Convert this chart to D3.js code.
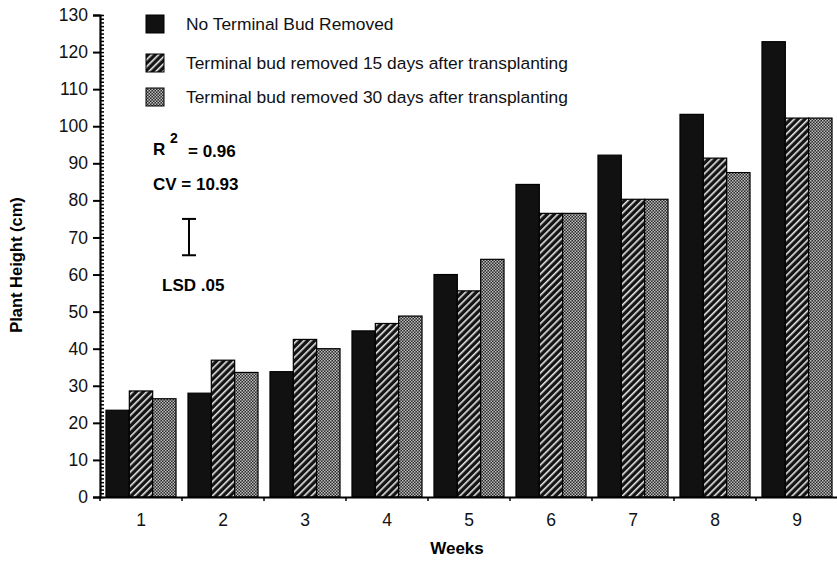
<!DOCTYPE html>
<html>
<head>
<meta charset="utf-8">
<script src="https://cdn.jsdelivr.net/npm/d3@7"></script>
<style>
body { margin: 0; background: #fff; }
svg { font-family: "Liberation Sans", Arial, sans-serif; }
</style>
</head>
<body>
<svg id="myGraph" width="837" height="561"></svg>
<script>
// データ
var weeks = ["1", "2", "3", "4", "5", "6", "7", "8", "9"];
var noBudRemoved = [23.4, 28.0, 33.8, 44.8, 60.0, 84.3, 92.2, 103.2, 122.8];
var removed15 = [28.6, 36.9, 42.5, 46.8, 55.6, 76.5, 80.3, 91.4, 102.2];
var removed30 = [26.5, 33.6, 40.0, 48.8, 64.1, 76.5, 80.3, 87.5, 102.2];
var seriesNames = [
    "No Terminal Bud Removed",
    "Terminal bud removed 15 days after transplanting",
    "Terminal bud removed 30 days after transplanting"
];
var yTicks = [0, 10, 20, 30, 40, 50, 60, 70, 80, 90, 100, 110, 120, 130];
var lsdRange = [65.2, 75.0];
var r2Text = "= 0.96";
var cvText = "CV = 10.93";
var lsdText = "LSD .05";

var svg = d3.select("#myGraph");

// 描画範囲 (window.top と衝突しない名前にする)
var plotLeft = 100, plotRight = 838, plotTop = 15, plotBottom = 497;

// スケール
var yScale = d3.scaleLinear().domain([0, 130]).range([plotBottom, plotTop]);
var x0 = d3.scaleBand().domain(weeks).range([plotLeft, plotRight])
    .paddingInner(0.146).paddingOuter(0.073);
var x1 = d3.scaleBand().domain([0, 1, 2]).range([0, x0.bandwidth()]);

// パターン
var defs = svg.append("defs");
var hatch = defs.append("pattern")
    .attr("id", "hatch")
    .attr("patternUnits", "userSpaceOnUse")
    .attr("width", 5).attr("height", 5)
    .attr("patternTransform", "rotate(45)");
hatch.append("rect").attr("width", 5).attr("height", 5).attr("fill", "#141414");
hatch.append("rect").attr("x", 0).attr("width", 1.6).attr("height", 5).attr("fill", "#e8e8e8");

var dots = defs.append("pattern")
    .attr("id", "dots")
    .attr("patternUnits", "userSpaceOnUse")
    .attr("width", 3).attr("height", 3);
dots.append("rect").attr("width", 3).attr("height", 3).attr("fill", "#2a2a2a");
dots.append("rect").attr("x", 0).attr("y", 0).attr("width", 1.5).attr("height", 1.5).attr("fill", "#bdbdbd");
dots.append("rect").attr("x", 1.5).attr("y", 1.5).attr("width", 1.5).attr("height", 1.5).attr("fill", "#bdbdbd");

var fills = ["#111", "url(#hatch)", "url(#dots)"];
var seriesData = [noBudRemoved, removed15, removed30];

// 棒グラフ
seriesData.forEach(function(values, s){
    svg.append("g")
    .selectAll("rect")
    .data(values)
    .enter()
    .append("rect")
    .attr("x", function(d, i){ return x0(weeks[i]) + x1(s); })
    .attr("y", function(d){ return yScale(d); })
    .attr("width", x1.bandwidth())
    .attr("height", function(d){ return plotBottom - yScale(d); })
    .attr("fill", fills[s])
    .attr("stroke", "#000")
    .attr("stroke-width", 1.2);
});

// 縦軸 (主目盛)
var yAxis = svg.append("g")
    .attr("transform", "translate(" + plotLeft + ",0)")
    .call(d3.axisLeft(yScale).tickValues(yTicks).tickSize(7).tickPadding(5));
yAxis.select(".domain").attr("stroke-width", 2.2);
yAxis.selectAll(".tick line").attr("stroke-width", 2);
yAxis.selectAll("text").style("font-size", "17.5px").attr("fill", "#111");

// 縦軸 (補助目盛)
var minor = svg.append("g")
    .attr("transform", "translate(" + plotLeft + ",0)")
    .call(d3.axisRight(yScale).tickValues(d3.range(0, 131, 1)).tickSize(4).tickFormat(""));
minor.select(".domain").remove();
minor.selectAll(".tick line").attr("stroke-width", 1.5);

// 横軸
var xAxis = svg.append("g")
    .attr("transform", "translate(0," + plotBottom + ")")
    .call(d3.axisBottom(x0).tickSize(0).tickPadding(17));
xAxis.select(".domain").attr("stroke-width", 2.2);
xAxis.selectAll("text").style("font-size", "17.5px").attr("fill", "#111");

// 横軸の区切り目盛
svg.append("g")
    .selectAll("line")
    .data(weeks)
    .enter()
    .append("line")
    .attr("x1", function(d){ return x0(d) - x0.step() * x0.paddingInner() / 2; })
    .attr("x2", function(d){ return x0(d) - x0.step() * x0.paddingInner() / 2; })
    .attr("y1", plotBottom)
    .attr("y2", plotBottom + 4)
    .attr("stroke", "#000")
    .attr("stroke-width", 1.5);

// 軸ラベル
svg.append("text")
    .attr("x", 457).attr("y", 554)
    .attr("text-anchor", "middle")
    .style("font-size", "17px").style("font-weight", "bold")
    .text("Weeks");

svg.append("text")
    .attr("transform", "translate(22,265) rotate(-90)")
    .attr("text-anchor", "middle")
    .style("font-size", "16.5px").style("font-weight", "bold")
    .text("Plant Height (cm)");

// 凡例
var legend = svg.append("g");
var legendY = [24, 63, 97];
seriesNames.forEach(function(name, i){
    legend.append("rect")
    .attr("x", 146).attr("y", legendY[i] - 9)
    .attr("width", 18).attr("height", 18)
    .attr("fill", fills[i])
    .attr("stroke", "#000");
    legend.append("text")
    .attr("x", 186).attr("y", legendY[i] + 6)
    .style("font-size", "17.4px")
    .attr("fill", "#111")
    .text(name);
});

// 統計値
var note = svg.append("g").style("font-weight", "bold").style("font-size", "17px");
note.append("text").attr("x", 153).attr("y", 155).text("R");
note.append("text").attr("x", 170).attr("y", 143).style("font-size", "14px").text("2");
note.append("text").attr("x", 188).attr("y", 157).text(r2Text);
note.append("text").attr("x", 153).attr("y", 190).text(cvText);
note.append("text").attr("x", 162).attr("y", 291).text(lsdText);

// LSD バー
var lsdX = 189;
var lsd = svg.append("g").attr("stroke", "#000").attr("stroke-width", 2);
lsd.append("line").attr("x1", lsdX).attr("x2", lsdX)
    .attr("y1", yScale(lsdRange[0])).attr("y2", yScale(lsdRange[1]));
lsd.append("line").attr("x1", lsdX - 7).attr("x2", lsdX + 7)
    .attr("y1", yScale(lsdRange[0])).attr("y2", yScale(lsdRange[0]));
lsd.append("line").attr("x1", lsdX - 7).attr("x2", lsdX + 7)
    .attr("y1", yScale(lsdRange[1])).attr("y2", yScale(lsdRange[1]));
</script>
</body>
</html>
